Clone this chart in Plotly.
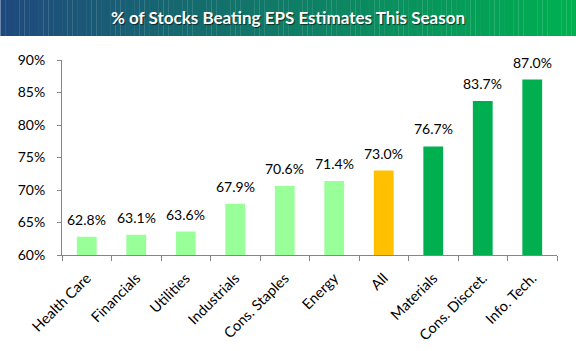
import plotly.graph_objects as go

categories = ["Health Care", "Financials", "Utilities", "Industrials", "Cons. Staples",
              "Energy", "All", "Materials", "Cons. Discret.", "Info. Tech."]
values = [62.8, 63.1, 63.6, 67.9, 70.6, 71.4, 73.0, 76.7, 83.7, 87.0]
bar_colors = ["#99FF99"] * 6 + ["#FFC000"] + ["#00B050"] * 3
title_text = "% of Stocks Beating EPS Estimates This Season"

W, H = 576, 351
FONT = "Lato, 'Open Sans', sans-serif"

fig = go.Figure(go.Bar(
    x=categories, y=values, marker=dict(color=bar_colors, line=dict(width=0)),
    width=0.4, cliponaxis=False,
))

# value labels above bars, positioned through the data scale
annotations = [dict(x=c, y=v, xref="x", yref="y", text=f"{v:.1f}%",
                    showarrow=False, xanchor="center", yanchor="bottom", yshift=7,
                    font=dict(size=14, color="#000000", family=FONT))
               for c, v in zip(categories, values)]

# title gradient bar
shapes = []
n = 120
c0 = (0x1F, 0x49, 0x7D)
c1 = (0x00, 0xB0, 0x50)
for i in range(n):
    t = i / (n - 1)
    col = "rgb(%d,%d,%d)" % tuple(round(a + (b - a) * t) for a, b in zip(c0, c1))
    shapes.append(dict(type="rect", xref="paper", yref="paper",
                       x0=-61.7 / 495.3 + i * (W / 495.3) / n,
                       x1=-61.7 / 495.3 + (i + 1.05) * (W / 495.3) / n,
                       y0=1 + (60 - 36) / 195, y1=1 + 60 / 195,
                       fillcolor=col, line=dict(width=0), layer="below"))

annotations.append(dict(text="<b>" + title_text + "</b>", xref="paper", yref="paper",
                        x=(288 - 61.7) / 495.3, y=1 + (60 - 18) / 195,
                        xanchor="center", yanchor="middle", showarrow=False,
                        font=dict(size=17, color="white", family=FONT,
                                  shadow="1px 1px 1px rgba(0,0,0,0.6)")))

fig.update_layout(
    width=W, height=H,
    margin=dict(l=61.7, r=19, t=60, b=96, pad=0),
    paper_bgcolor="white", plot_bgcolor="white",
    showlegend=False,
    shapes=shapes,
    font=dict(family=FONT, size=14, color="#000000"),
    annotations=annotations,
)
fig.update_yaxes(range=[60, 90], dtick=5, ticksuffix="%", showgrid=False,
                 showline=True, linecolor="#868686", linewidth=1,
                 ticks="outside", ticklen=4, tickcolor="#868686",
                 ticklabelstandoff=9, automargin=False,
                 tickfont=dict(size=14, family=FONT), zeroline=False)
fig.update_xaxes(showline=True, linecolor="#868686", linewidth=1,
                 ticks="outside", ticklen=5, tickcolor="#868686",
                 tickson="boundaries", tickangle=-45, ticklabelstandoff=8,
                 automargin=False,
                 tickfont=dict(size=14.5, family=FONT), showgrid=False)

fig.write_html("out.html")
